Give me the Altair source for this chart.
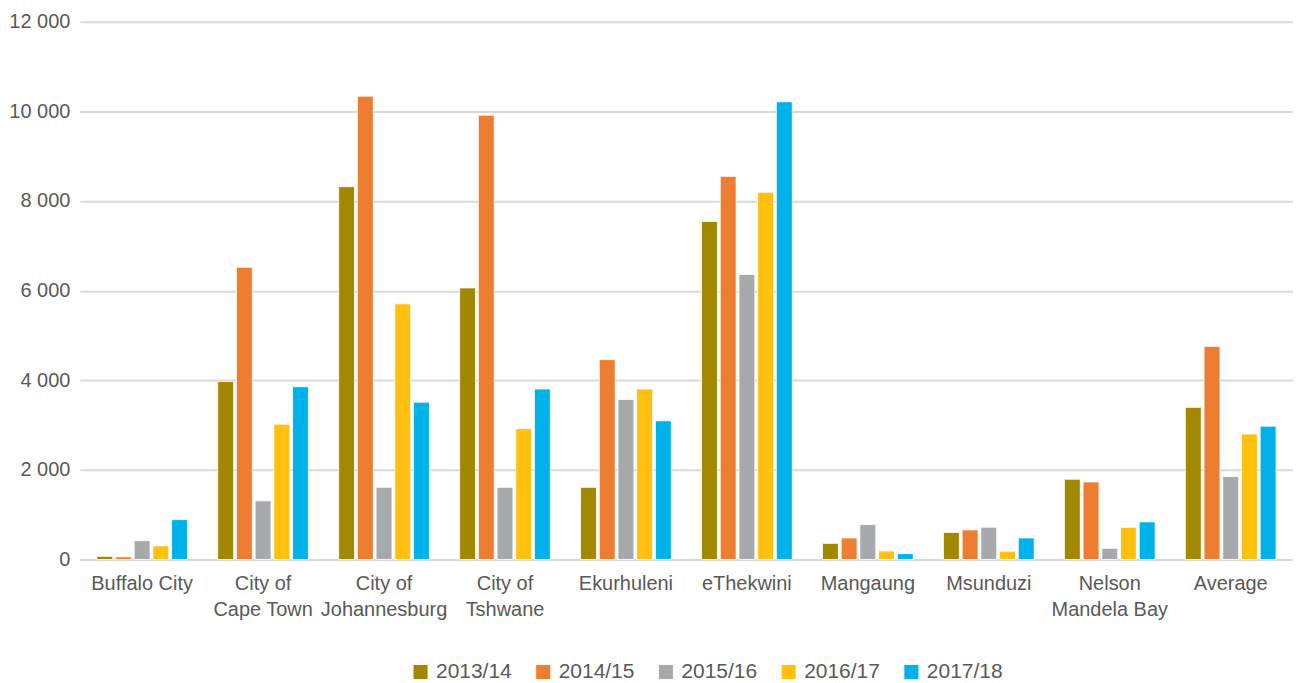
import altair as alt
import pandas as pd

categories = ["Buffalo City", "City of\nCape Town", "City of\nJohannesburg", "City of\nTshwane",
              "Ekurhuleni", "eThekwini", "Mangaung", "Msunduzi", "Nelson\nMandela Bay", "Average"]
years = ["2013/14", "2014/15", "2015/16", "2016/17", "2017/18"]
colors = ["#A28700", "#ED7D31", "#A8A9AD", "#FFC010", "#00B2EA"]

v_2013_14 = [70, 3975, 8320, 6060, 1610, 7545, 360, 605, 1790, 3395]
v_2014_15 = [60, 6520, 10340, 9915, 4460, 8550, 480, 660, 1730, 4755]
v_2015_16 = [420, 1310, 1610, 1610, 3570, 6360, 780, 720, 250, 1850]
v_2016_17 = [305, 3020, 5705, 2920, 3805, 8195, 190, 185, 720, 2800]
v_2017_18 = [890, 3855, 3510, 3805, 3095, 10215, 130, 480, 840, 2975]

series = [v_2013_14, v_2014_15, v_2015_16, v_2016_17, v_2017_18]
rows = []
for yr, vals in zip(years, series):
    for c, v in zip(categories, vals):
        rows.append({"city": c, "year": yr, "value": v})
df = pd.DataFrame(rows)

FONT = "Liberation Sans"
GRAY = "#595959"

chart = alt.Chart(df).mark_bar(stroke="white", strokeWidth=0.8).encode(
    x=alt.X("city:N", sort=categories, title=None,
            scale=alt.Scale(paddingInner=0.25, paddingOuter=0.14),
            axis=alt.Axis(labelAngle=0, labelExpr="split(datum.label, '\\n')",
                          labelFont=FONT, labelFontSize=20, labelColor=GRAY,
                          labelPadding=14, labelLineHeight=26, ticks=False,
                          domain=True, domainColor="#D9D9D9", domainWidth=2,
                          labelBaseline="top")),
    xOffset=alt.XOffset("year:N", sort=years, scale=alt.Scale(paddingInner=0.15, paddingOuter=0)),
    y=alt.Y("value:Q", title=None,
            scale=alt.Scale(domain=[0, 12000], nice=False),
            axis=alt.Axis(values=[0, 2000, 4000, 6000, 8000, 10000, 12000],
                          labelExpr="replace(format(datum.value, ',d'), ',', ' ')",
                          labelFont=FONT, labelFontSize=20, labelColor=GRAY,
                          labelPadding=10, ticks=False, domain=False,
                          grid=True, gridColor="#D9D9D9", gridWidth=2)),
    color=alt.Color("year:N", sort=years,
                    scale=alt.Scale(domain=years, range=colors),
                    legend=alt.Legend(title=None, orient="none", direction="horizontal",
                                      legendX=331, legendY=641,
                                      symbolType="square", symbolSize=200,
                                      symbolStrokeWidth=0,
                                      labelFont=FONT, labelFontSize=21, labelColor=GRAY,
                                      labelOffset=5, columnPadding=21)),
).properties(
    width=1216, height=539,
    autosize=alt.AutoSizeParams(type="none"),
    padding={"left": 72, "top": 13, "right": 0, "bottom": 128},
).configure_view(stroke=None)

chart.save("out.html", embed_options={"renderer": "svg", "actions": False})
